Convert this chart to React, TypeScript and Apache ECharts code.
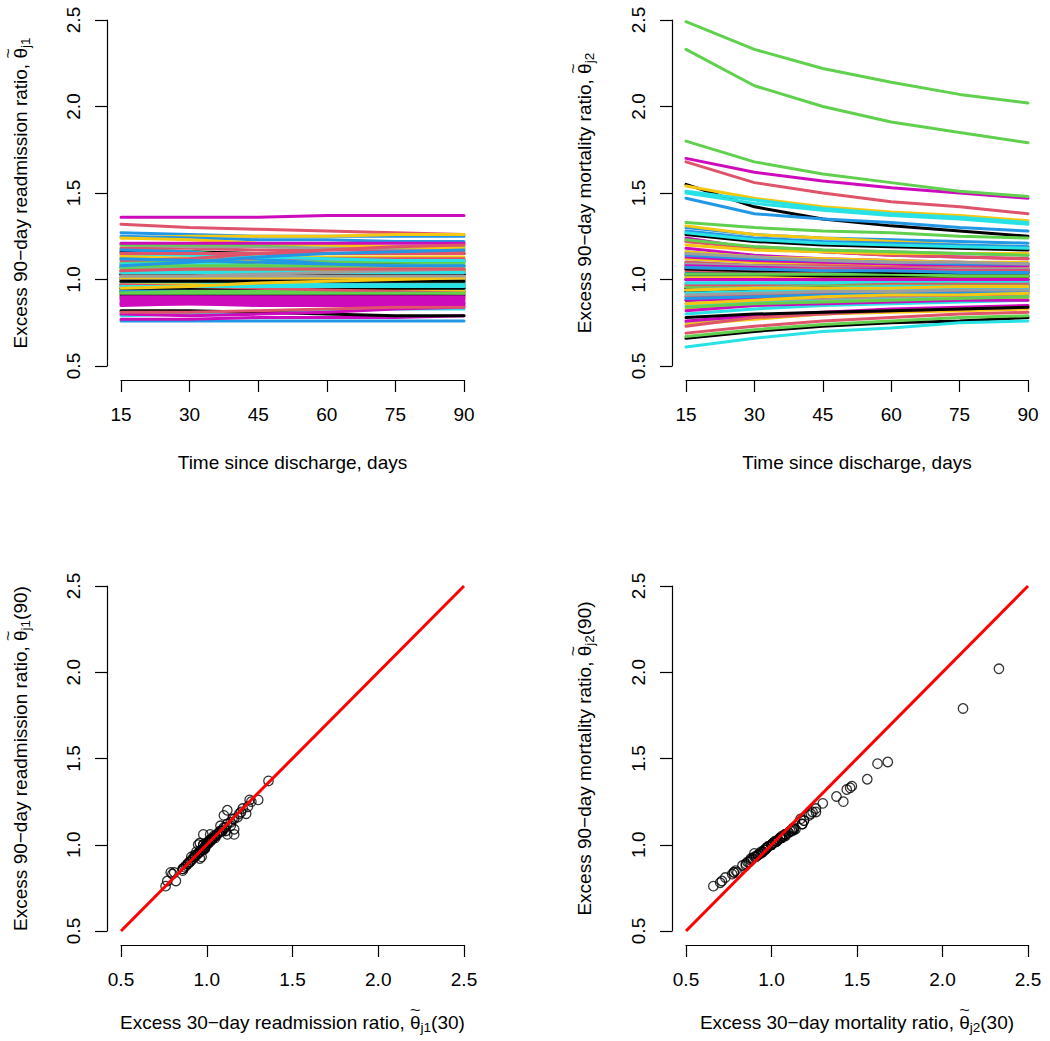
import React, { useEffect, useRef } from "react";
import * as echarts from "echarts";

// ---------- data ----------
const days = [15, 30, 45, 60, 75, 90];
const ratioTicks = [0.5, 2.5];
const identityLine = [0.5, 2.5];
// R default palette (col = 1:8, recycled)
const rPalette = ["#000000", "#DF536B", "#61D04F", "#2297E6", "#28E2E5", "#CD0BBC", "#F5C710", "#9E9E9E"];

// excess readmission ratio, one row per hospital, values at days 15..90
const readmissionCurves: number[][] = [
  [1.16, 1.16, 1.15, 1.15, 1.15, 1.15],
  [1.32, 1.30, 1.29, 1.28, 1.27, 1.26],
  [1.18, 1.16, 1.13, 1.10, 1.09, 1.09],
  [1.27, 1.26, 1.25, 1.25, 1.25, 1.25],
  [1.12, 1.11, 1.11, 1.10, 1.10, 1.10],
  [1.36, 1.36, 1.36, 1.37, 1.37, 1.37],
  [1.24, 1.25, 1.25, 1.25, 1.26, 1.26],
  [1.01, 1.01, 1.02, 1.02, 1.02, 1.02],
  [1.07, 1.08, 1.09, 1.10, 1.10, 1.11],
  [1.09, 1.09, 1.08, 1.08, 1.08, 1.08],
  [0.90, 0.91, 0.92, 0.92, 0.93, 0.93],
  [0.76, 0.76, 0.76, 0.76, 0.76, 0.76],
  [0.79, 0.80, 0.81, 0.82, 0.83, 0.83],
  [0.77, 0.77, 0.78, 0.78, 0.78, 0.79],
  [1.14, 1.14, 1.13, 1.13, 1.13, 1.13],
  [0.98, 0.98, 0.99, 1.00, 1.00, 1.00],
  [0.82, 0.82, 0.81, 0.80, 0.79, 0.79],
  [1.18, 1.18, 1.17, 1.17, 1.17, 1.16],
  [0.95, 0.95, 0.95, 0.95, 0.95, 0.95],
  [1.25, 1.24, 1.23, 1.23, 1.22, 1.22],
  [0.93, 0.94, 0.95, 0.95, 0.96, 0.96],
  [0.88, 0.87, 0.87, 0.87, 0.87, 0.87],
  [1.04, 1.04, 1.04, 1.04, 1.05, 1.05],
  [1.20, 1.19, 1.19, 1.18, 1.18, 1.18],
  [0.97, 0.97, 0.97, 0.97, 0.97, 0.97],
  [1.12, 1.12, 1.12, 1.12, 1.12, 1.12],
  [1.20, 1.20, 1.20, 1.20, 1.19, 1.19],
  [0.97, 0.98, 1.01, 1.03, 1.05, 1.06],
  [1.00, 0.99, 0.99, 0.98, 0.98, 0.98],
  [0.86, 0.86, 0.85, 0.85, 0.85, 0.85],
  [0.90, 0.90, 0.90, 0.90, 0.90, 0.90],
  [1.03, 1.03, 1.03, 1.03, 1.03, 1.03],
  [1.05, 1.05, 1.05, 1.05, 1.05, 1.05],
  [0.96, 0.96, 0.96, 0.96, 0.96, 0.96],
  [1.10, 1.10, 1.10, 1.10, 1.10, 1.10],
  [0.99, 0.99, 0.98, 0.98, 0.98, 0.98],
  [1.07, 1.07, 1.07, 1.07, 1.07, 1.07],
  [0.80, 0.79, 0.80, 0.81, 0.83, 0.84],
  [1.24, 1.23, 1.21, 1.20, 1.19, 1.18],
  [0.94, 0.94, 0.94, 0.94, 0.94, 0.94],
  [0.93, 0.93, 0.93, 0.93, 0.93, 0.93],
  [1.02, 1.02, 1.02, 1.03, 1.03, 1.03],
  [0.99, 0.99, 0.99, 0.99, 0.99, 0.99],
  [1.17, 1.16, 1.12, 1.09, 1.07, 1.06],
  [0.92, 0.93, 0.93, 0.94, 0.94, 0.94],
  [1.21, 1.21, 1.21, 1.21, 1.21, 1.21],
  [0.89, 0.89, 0.89, 0.89, 0.89, 0.89],
  [1.08, 1.08, 1.08, 1.08, 1.08, 1.08],
  [1.00, 1.00, 1.01, 1.01, 1.01, 1.01],
  [0.81, 0.81, 0.82, 0.83, 0.84, 0.84],
  [0.97, 0.98, 0.99, 1.00, 1.00, 1.00],
  [1.03, 1.03, 1.03, 1.03, 1.03, 1.03],
  [1.15, 1.14, 1.13, 1.12, 1.11, 1.11],
  [0.89, 0.89, 0.89, 0.89, 0.89, 0.89],
  [1.05, 1.05, 1.05, 1.05, 1.05, 1.05],
  [0.97, 0.97, 0.97, 0.97, 0.97, 0.97],
  [0.91, 0.91, 0.91, 0.91, 0.91, 0.91],
  [1.15, 1.15, 1.15, 1.15, 1.15, 1.15],
  [0.93, 0.93, 0.93, 0.93, 0.93, 0.93],
  [0.94, 0.95, 0.97, 0.98, 0.99, 1.00],
  [0.98, 0.98, 0.98, 0.97, 0.97, 0.97],
  [0.85, 0.86, 0.86, 0.86, 0.86, 0.86],
  [1.13, 1.12, 1.10, 1.08, 1.07, 1.06],
  [1.05, 1.05, 1.05, 1.04, 1.04, 1.04],
  [1.03, 1.03, 1.03, 1.03, 1.03, 1.03],
  [1.11, 1.12, 1.15, 1.17, 1.19, 1.20],
  [1.06, 1.06, 1.06, 1.06, 1.06, 1.06],
  [1.01, 1.01, 1.01, 1.01, 1.01, 1.01],
  [1.09, 1.09, 1.08, 1.08, 1.08, 1.08],
  [0.90, 0.90, 0.90, 0.90, 0.90, 0.90],
  [0.97, 0.97, 0.96, 0.95, 0.94, 0.93],
  [1.00, 1.00, 1.00, 1.00, 1.00, 1.00],
  [0.95, 0.95, 0.95, 0.95, 0.95, 0.95],
  [0.97, 0.96, 0.95, 0.94, 0.93, 0.92],
  [1.08, 1.08, 1.08, 1.08, 1.08, 1.08],
  [1.12, 1.11, 1.10, 1.09, 1.08, 1.08],
  [1.04, 1.04, 1.04, 1.04, 1.04, 1.04],
  [0.87, 0.88, 0.88, 0.88, 0.88, 0.88],
  [1.01, 1.01, 1.01, 1.01, 1.01, 1.01],
  [1.02, 1.02, 1.03, 1.04, 1.05, 1.06],
  [0.99, 0.99, 0.99, 0.99, 0.99, 0.99],
  [1.05, 1.06, 1.06, 1.06, 1.06, 1.06],
  [0.92, 0.92, 0.92, 0.92, 0.92, 0.92],
  [1.08, 1.10, 1.13, 1.15, 1.16, 1.17],
  [0.96, 0.96, 0.96, 0.96, 0.96, 0.96],
  [0.86, 0.86, 0.86, 0.86, 0.86, 0.86],
  [0.95, 0.96, 0.98, 0.99, 1.00, 1.01],
  [1.02, 1.02, 1.02, 1.02, 1.02, 1.02],
];

// excess mortality ratio, one row per hospital, values at days 15..90
const mortalityCurves: number[][] = [
  [1.55, 1.42, 1.35, 1.31, 1.28, 1.25],
  [1.68, 1.56, 1.50, 1.45, 1.42, 1.38],
  [2.49, 2.33, 2.22, 2.14, 2.07, 2.02],
  [1.47, 1.38, 1.35, 1.33, 1.30, 1.28],
  [1.50, 1.44, 1.40, 1.37, 1.35, 1.32],
  [1.70, 1.62, 1.57, 1.53, 1.50, 1.47],
  [1.54, 1.47, 1.42, 1.39, 1.37, 1.34],
  [1.22, 1.19, 1.17, 1.16, 1.15, 1.14],
  [0.66, 0.70, 0.73, 0.75, 0.76, 0.78],
  [0.69, 0.73, 0.76, 0.78, 0.80, 0.81],
  [2.33, 2.12, 2.00, 1.91, 1.85, 1.79],
  [1.30, 1.26, 1.24, 1.23, 1.22, 1.21],
  [0.61, 0.66, 0.70, 0.72, 0.75, 0.76],
  [1.24, 1.18, 1.16, 1.14, 1.13, 1.12],
  [1.31, 1.26, 1.24, 1.22, 1.20, 1.19],
  [0.75, 0.78, 0.80, 0.82, 0.83, 0.84],
  [1.26, 1.22, 1.20, 1.19, 1.18, 1.17],
  [1.22, 1.18, 1.16, 1.14, 1.13, 1.12],
  [1.80, 1.68, 1.61, 1.56, 1.51, 1.48],
  [1.28, 1.24, 1.22, 1.21, 1.20, 1.19],
  [1.51, 1.46, 1.41, 1.38, 1.36, 1.33],
  [0.76, 0.79, 0.81, 0.83, 0.84, 0.85],
  [1.20, 1.17, 1.16, 1.15, 1.15, 1.15],
  [1.12, 1.10, 1.09, 1.08, 1.08, 1.07],
  [1.09, 1.08, 1.07, 1.07, 1.07, 1.06],
  [1.15, 1.12, 1.11, 1.10, 1.09, 1.08],
  [0.67, 0.71, 0.74, 0.76, 0.78, 0.79],
  [1.10, 1.08, 1.07, 1.06, 1.05, 1.05],
  [1.27, 1.23, 1.21, 1.20, 1.19, 1.18],
  [1.18, 1.14, 1.12, 1.11, 1.10, 1.09],
  [0.74, 0.77, 0.80, 0.81, 0.82, 0.83],
  [0.90, 0.92, 0.93, 0.93, 0.94, 0.94],
  [0.88, 0.90, 0.91, 0.93, 0.94, 0.95],
  [0.73, 0.78, 0.80, 0.82, 0.83, 0.84],
  [1.33, 1.30, 1.28, 1.27, 1.25, 1.24],
  [1.04, 1.03, 1.03, 1.02, 1.02, 1.02],
  [0.85, 0.87, 0.88, 0.89, 0.90, 0.90],
  [1.06, 1.05, 1.05, 1.04, 1.04, 1.04],
  [1.12, 1.10, 1.09, 1.08, 1.08, 1.07],
  [1.00, 1.00, 1.00, 1.00, 1.00, 1.00],
  [0.78, 0.80, 0.81, 0.82, 0.83, 0.84],
  [1.05, 1.04, 1.04, 1.04, 1.03, 1.03],
  [1.23, 1.19, 1.17, 1.16, 1.15, 1.14],
  [0.98, 0.98, 0.98, 0.98, 0.99, 0.99],
  [1.16, 1.13, 1.11, 1.10, 1.09, 1.09],
  [0.95, 0.95, 0.96, 0.96, 0.96, 0.96],
  [0.83, 0.85, 0.87, 0.88, 0.89, 0.89],
  [1.07, 1.06, 1.05, 1.05, 1.05, 1.04],
  [0.95, 0.96, 0.96, 0.96, 0.97, 0.97],
  [1.02, 1.02, 1.02, 1.02, 1.02, 1.02],
  [0.91, 0.92, 0.93, 0.93, 0.94, 0.94],
  [1.01, 1.01, 1.01, 1.01, 1.01, 1.01],
  [0.80, 0.83, 0.85, 0.86, 0.87, 0.88],
  [1.13, 1.11, 1.10, 1.09, 1.08, 1.08],
  [0.97, 0.97, 0.97, 0.97, 0.98, 0.98],
  [0.86, 0.88, 0.89, 0.90, 0.91, 0.91],
  [1.00, 1.00, 1.00, 1.00, 1.00, 1.00],
  [0.90, 0.91, 0.92, 0.93, 0.93, 0.93],
  [1.08, 1.07, 1.06, 1.06, 1.05, 1.05],
  [0.93, 0.94, 0.94, 0.95, 0.95, 0.95],
  [1.03, 1.03, 1.02, 1.02, 1.02, 1.02],
  [0.88, 0.89, 0.90, 0.91, 0.91, 0.92],
  [1.16, 1.13, 1.12, 1.11, 1.10, 1.10],
  [0.96, 0.96, 0.97, 0.97, 0.97, 0.97],
  [0.93, 0.94, 0.94, 0.95, 0.95, 0.96],
  [1.10, 1.08, 1.08, 1.07, 1.07, 1.06],
  [0.96, 0.97, 0.97, 0.97, 0.97, 0.98],
  [1.14, 1.12, 1.11, 1.10, 1.09, 1.09],
  [0.92, 0.93, 0.94, 0.94, 0.95, 0.95],
  [0.82, 0.85, 0.86, 0.87, 0.88, 0.88],
  [1.01, 1.01, 1.01, 1.01, 1.01, 1.01],
  [1.09, 1.08, 1.07, 1.06, 1.06, 1.06],
  [1.03, 1.03, 1.02, 1.02, 1.02, 1.02],
  [0.97, 0.97, 0.98, 0.98, 0.98, 0.98],
  [1.03, 1.03, 1.03, 1.03, 1.02, 1.02],
  [0.89, 0.90, 0.91, 0.92, 0.92, 0.93],
  [0.98, 0.98, 0.98, 0.99, 0.99, 0.99],
  [1.08, 1.07, 1.06, 1.06, 1.05, 1.05],
  [0.86, 0.88, 0.90, 0.91, 0.91, 0.92],
  [1.15, 1.13, 1.11, 1.10, 1.10, 1.09],
  [1.06, 1.05, 1.05, 1.04, 1.04, 1.04],
  [1.07, 1.06, 1.06, 1.05, 1.05, 1.05],
  [0.84, 0.86, 0.87, 0.88, 0.89, 0.90],
  [1.07, 1.06, 1.05, 1.05, 1.04, 1.04],
  [0.94, 0.95, 0.95, 0.96, 0.96, 0.96],
  [1.00, 1.00, 1.00, 1.00, 1.00, 1.00],
  [0.94, 0.95, 0.95, 0.95, 0.96, 0.96],
  [0.91, 0.92, 0.93, 0.93, 0.94, 0.94],
];

const day30 = days.indexOf(30);
const day90 = days.indexOf(90);

// axis titles: [main text, subscript, suffix] (theta with tilde drawn between main and subscript)
const titleTimeX = "Time since discharge, days";
const titleReadmitY = ["Excess 90\u2212day readmission ratio, ", "j1", ""];
const titleMortY = ["Excess 90\u2212day mortality ratio, ", "j2", ""];
const titleReadmit30X = ["Excess 30\u2212day readmission ratio, ", "j1", "(30)"];
const titleMort30X = ["Excess 30\u2212day mortality ratio, ", "j2", "(30)"];
const titleReadmit90Y = ["Excess 90\u2212day readmission ratio, ", "j1", "(90)"];
const titleMort90Y = ["Excess 90\u2212day mortality ratio, ", "j2", "(90)"];

// ---------- styling ----------
const FONT = "Liberation Sans";
const FS = 19;
const SUB_FS = 13.5;

const grids = [
  { left: 121, top: 20, width: 343, height: 346 },
  { left: 686, top: 20, width: 342, height: 346 },
  { left: 121, top: 586, width: 343, height: 345 },
  { left: 686, top: 586, width: 342, height: 345 },
];

const axisBase = {
  axisLine: { show: true, lineStyle: { color: "#000", width: 1.2 } },
  axisTick: { show: true, length: 12, lineStyle: { color: "#000", width: 1.2 } },
  splitLine: { show: false },
};

function xAxisFor(i: number, isDays: boolean) {
  return {
    ...axisBase,
    type: "value",
    gridIndex: i,
    position: "bottom",
    offset: 14,
    min: isDays ? days[0] : ratioTicks[0],
    max: isDays ? days[days.length - 1] : ratioTicks[1],
    interval: isDays ? 15 : 0.5,
    axisLabel: {
      color: "#000",
      fontFamily: FONT,
      fontSize: FS,
      margin: 25,
      formatter: (v: number) => (isDays ? String(v) : v.toFixed(1)),
    },
  };
}

function yAxisFor(i: number) {
  return {
    ...axisBase,
    type: "value",
    gridIndex: i,
    position: "left",
    offset: 14,
    min: ratioTicks[0],
    max: ratioTicks[1],
    interval: 0.5,
    axisLabel: {
      color: "#000",
      fontFamily: FONT,
      fontSize: FS,
      margin: 24,
      rotate: 90,
      formatter: (v: number) => v.toFixed(1),
    },
  };
}

let measureCtx: CanvasRenderingContext2D | null = null;
function textWidth(s: string, size: number) {
  if (!measureCtx) measureCtx = document.createElement("canvas").getContext("2d");
  if (!measureCtx) return s.length * size * 0.5;
  measureCtx.font = `${size}px "${FONT}"`;
  return measureCtx.measureText(s).width;
}

function txt(text: string, x: number, y: number, size: number, align = "left") {
  return {
    type: "text",
    x,
    y,
    silent: true,
    style: { text, fontFamily: FONT, fontSize: size, fill: "#000", align, verticalAlign: "middle" },
  };
}

function thetaTitle(parts: string[], cx: number, cy: number, vertical: boolean) {
  const [main, sub, suffix] = parts;
  const wMain = textWidth(main, FS);
  const wTheta = textWidth("\u03B8", FS);
  const wSub = textWidth(sub, SUB_FS);
  const wSuf = suffix ? textWidth(suffix, FS) : 0;
  const total = wMain + wTheta + wSub + wSuf;
  const x0 = -total / 2;
  const children: any[] = [
    txt(main, x0, 0, FS),
    txt("\u03B8", x0 + wMain, 0, FS),
    {
      type: "text",
      x: x0 + wMain + wTheta / 2,
      y: -12,
      silent: true,
      scaleX: 1.05,
      scaleY: 0.85,
      style: { text: "~", fontFamily: FONT, fontSize: 17, fill: "#000", align: "center", verticalAlign: "middle" },
    },
    txt(sub, x0 + wMain + wTheta, 5, SUB_FS),
  ];
  if (suffix) children.push(txt(suffix, x0 + wMain + wTheta + wSub, 0, FS));
  return { type: "group", x: cx, y: cy, rotation: vertical ? Math.PI / 2 : 0, children };
}

function buildOption() {
  const series: any[] = [];
  const curveSeries = (curves: number[][], axis: number) =>
    curves.forEach((c, i) => {
      series.push({
        type: "line",
        xAxisIndex: axis,
        yAxisIndex: axis,
        data: days.map((d, k) => [d, c[k]]),
        symbol: "none",
        silent: true,
        lineStyle: { color: rPalette[i % rPalette.length], width: 3, cap: "round", join: "round" },
      });
    });
  curveSeries(readmissionCurves, 0);
  curveSeries(mortalityCurves, 1);
  [readmissionCurves, mortalityCurves].forEach((curves, j) => {
    series.push({
      type: "scatter",
      xAxisIndex: 2 + j,
      yAxisIndex: 2 + j,
      data: curves.map((c) => [c[day30], c[day90]]),
      symbol: "circle",
      symbolSize: 9.5,
      silent: true,
      itemStyle: { color: "rgba(0,0,0,0)", borderColor: "#000", borderWidth: 1.3 },
    });
    series.push({
      type: "line",
      xAxisIndex: 2 + j,
      yAxisIndex: 2 + j,
      data: identityLine.map((v) => [v, v]),
      symbol: "none",
      silent: true,
      z: 5,
      lineStyle: { color: "#FF0000", width: 3 },
    });
  });

  const graphic = [
    txt(titleTimeX, 292.5, 462, FS, "center"),
    txt(titleTimeX, 857, 462, FS, "center"),
    thetaTitle(titleReadmit30X, 292.5, 1022, false),
    thetaTitle(titleMort30X, 857, 1022, false),
    thetaTitle(titleReadmitY, 20, 193, true),
    thetaTitle(titleMortY, 584.5, 193, true),
    thetaTitle(titleReadmit90Y, 20, 758.5, true),
    thetaTitle(titleMort90Y, 584.5, 758.5, true),
  ];

  return {
    animation: false,
    backgroundColor: "#ffffff",
    grid: grids.map((g) => ({ ...g, containLabel: false, outerBoundsMode: "none" })),
    xAxis: [xAxisFor(0, true), xAxisFor(1, true), xAxisFor(2, false), xAxisFor(3, false)],
    yAxis: [yAxisFor(0), yAxisFor(1), yAxisFor(2), yAxisFor(3)],
    graphic,
    series,
  };
}

export default function App() {
  const ref = useRef<HTMLDivElement>(null);
  useEffect(() => {
    if (!ref.current) return;
    const chart = echarts.init(ref.current, undefined, { renderer: "svg" });
    chart.setOption(buildOption() as any);
    return () => chart.dispose();
  }, []);
  return (
    <div
      ref={ref}
      style={{ position: "fixed", left: 0, top: 0, width: 1050, height: 1041, background: "#fff" }}
    />
  );
}
